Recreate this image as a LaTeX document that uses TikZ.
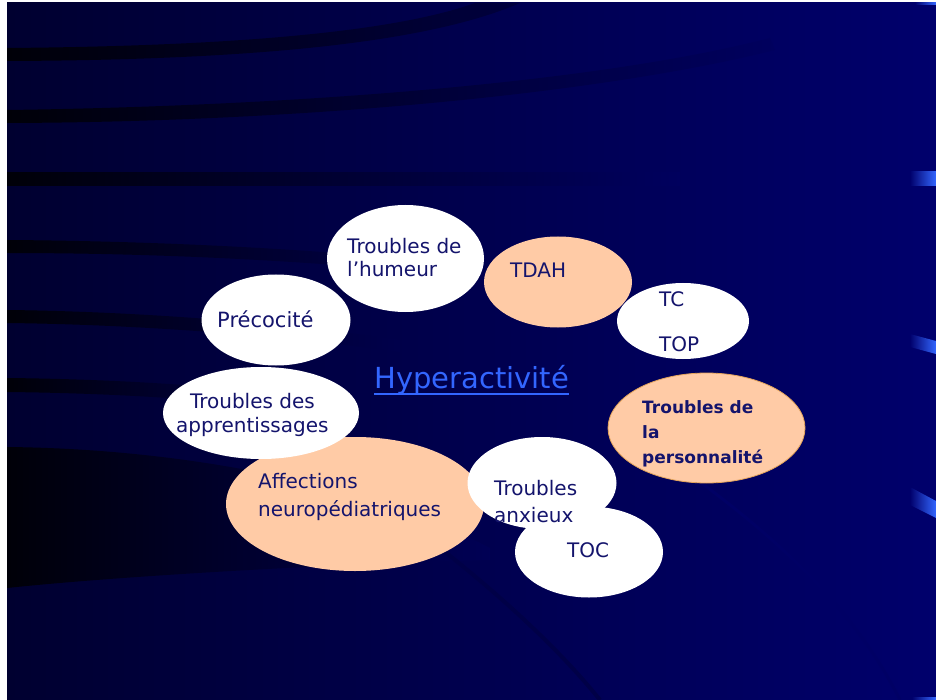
\documentclass[tikz,border=0pt]{standalone}
\usepackage{fontspec}
\setmainfont{DejaVu Sans}
\usetikzlibrary{shapes.geometric}
\definecolor{bgleft}{HTML}{000030}
\definecolor{bgmid}{HTML}{00005E}
\definecolor{bgright}{HTML}{00006C}
\definecolor{ink}{HTML}{14146C}
\definecolor{peach}{HTML}{FFCBA6}
\definecolor{linkblue}{HTML}{3366FF}
\definecolor{rim}{HTML}{E3A35A}
\definecolor{streak}{HTML}{000008}
\newcommand\thickul[1]{\setbox0\hbox{#1}\rlap{\raisebox{-7pt}{\rule{\wd0}{2pt}}}\box0}
\tikzset{
  blob/.style={ellipse, inner sep=0pt, outer sep=0pt},
  whiteblob/.style={blob, fill=white},
  peachblob/.style={blob, fill=peach},
  txt/.style={text=ink, font=\fontsize{20}{24}\selectfont, anchor=base west, inner sep=0pt, align=left},
  boldtxt/.style={txt, font=\bfseries\fontsize{17}{25}\selectfont},
  bluebar/.style={left color=bgright, right color=linkblue},
}
\begin{document}
\begin{tikzpicture}[x=1pt,y=-1pt]
\useasboundingbox (0,0) rectangle (936,700);
\fill[white] (0,0) rectangle (936,700);
% background
\shade[left color=bgleft, middle color=bgmid, right color=bgright] (7,3) rectangle (936,700);
% dark streaks
\shade[left color=streak, right color=bgleft!70!bgmid] (7,48) .. controls (250,46) and (400,30) .. (475,3) -- (520,3) .. controls (430,42) and (260,60) .. (7,61) -- cycle;
\shade[left color=streak, right color=bgmid] (7,110) .. controls (300,106) and (600,82) .. (770,38) -- (775,50) .. controls (600,94) and (300,122) .. (7,123) -- cycle;
\shade[left color=streak, right color=bgmid] (7,173) rectangle (680,186);
\shade[left color=streak, right color=bgleft!40!bgmid] (7,240) .. controls (150,241) and (300,248) .. (440,262) -- (440,274) .. controls (300,260) and (150,253) .. (7,253) -- cycle;
\shade[left color=streak, right color=bgleft!40!bgmid] (7,310) .. controls (100,311) and (250,318) .. (400,340) -- (400,352) .. controls (250,331) and (100,324) .. (7,323) -- cycle;
\shade[left color=streak, right color=bgleft!40!bgmid] (7,378) .. controls (100,379) and (200,384) .. (300,396) -- (300,410) .. controls (200,398) and (100,393) .. (7,392) -- cycle;
\shade[left color=streak, right color=bgleft!20!bgmid] (7,447) .. controls (200,449) and (380,490) .. (490,548) -- (490,560) .. controls (300,565) and (100,578) .. (7,588) -- cycle;
% faint arcs
\draw[line width=4pt, bgleft!50!bgmid] (440,548) .. controls (500,595) and (560,650) .. (600,700);
\draw[line width=3pt, bgleft!12!bgright] (640,440) .. controls (760,520) and (850,600) .. (900,700);
% blue bars at right edge
\shade[bluebar] (910,172) rectangle (936,186);
\shade[bluebar] (910,334) -- (936,341) -- (936,354) -- (910,347) -- cycle;
\shade[bluebar] (910,487) -- (936,501) -- (936,518) -- (910,505) -- cycle;
\shade[bluebar] (912,697) rectangle (936,700);
\shade[bluebar] (915,3) rectangle (936,5);
% ellipses
\node[peachblob, minimum width=258pt, minimum height=134pt] (affect) at (355,504) {};
\node[whiteblob, minimum width=196pt, minimum height=92pt] (appr) at (261,413) {};
\node[whiteblob, minimum width=149pt, minimum height=91pt] (preco) at (276,320) {};
\node[whiteblob, minimum width=157pt, minimum height=107pt] (humeur) at (405.5,258.5) {};
\node[peachblob, minimum width=148pt, minimum height=91pt] (tdah) at (558,282) {};
\node[whiteblob, minimum width=132pt, minimum height=76pt] (tctop) at (683,321) {};
\node[peachblob, draw=rim, line width=0.8pt, minimum width=197pt, minimum height=110pt] (perso) at (706.5,428) {};
\node[whiteblob, minimum width=148pt, minimum height=91pt] (toc) at (589,552) {};
\node[whiteblob, minimum width=149pt, minimum height=92pt] (anx) at (542,483) {};
% texts (multi-line nodes are placed by the baseline of their last line)
\node[txt] (humeurtxt) at (347,277) {Troubles de\\l’humeur};
\node[txt] (tdahtxt) at (510,278) {TDAH};
\node[txt] (tctoptxt) at (659,351) {TC\\[20pt]TOP};
\node[boldtxt] (persotxt) at (642,463) {Troubles de\\la\\personnalité};
\node[txt, font=\fontsize{21}{24}\selectfont] (precotxt) at (217,327) {Précocité};
\node[txt, align=center] (apprtxt) at (176,432) {Troubles des\\apprentissages};
\node[txt, font=\fontsize{20}{28}\selectfont] (affecttxt) at (258,516) {Affections\\neuropédiatriques};
\node[txt, font=\fontsize{20}{27}\selectfont] (anxtxt) at (494,522) {Troubles\\anxieux};
\node[txt] (toctxt) at (567,557) {TOC};
\node[txt, text=linkblue, font=\fontsize{29}{34}\selectfont] (hyper) at (374,388) {\thickul{Hyperactivité}};
\end{tikzpicture}
\end{document}
